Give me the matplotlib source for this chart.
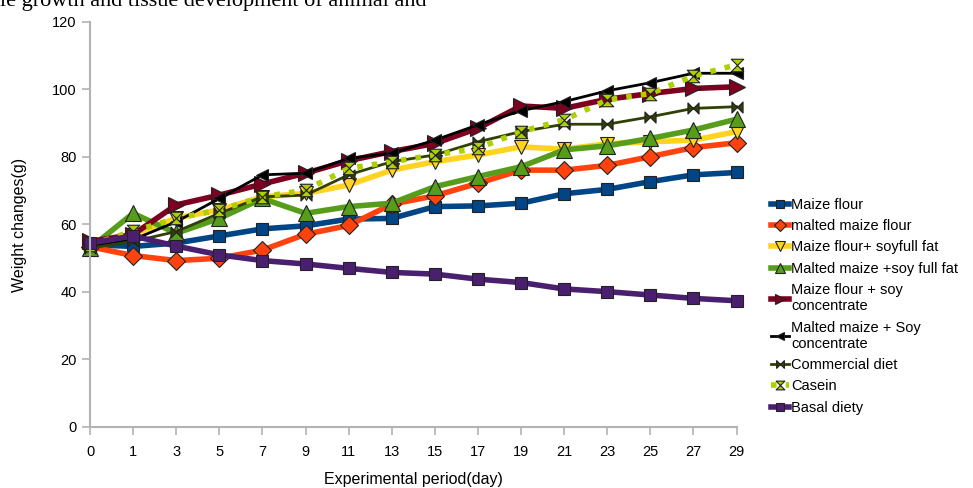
import matplotlib.pyplot as plt
from matplotlib.path import Path

plt.rcParams['font.family'] = ['Liberation Sans', 'DejaVu Sans']

# data
days = ['0', '1', '3', '5', '7', '9', '11', '13', '15', '17', '19', '21', '23', '25', '27', '29']

maize_flour = [54, 53.5, 54.5, 56.6, 58.7, 59.6, 61.6, 61.8, 65.3, 65.5, 66.3, 69.1, 70.4, 72.7, 74.7, 75.4]
malted_maize = [53.4, 50.8, 49.3, 50, 52.4, 57.1, 59.7, 66, 68.5, 72.2, 76.1, 76.1, 77.5, 80.1, 82.8, 84.2]
maize_soyfull = [54, 57, 61.9, 64.3, 68.2, 69.2, 71.7, 76.1, 78.6, 80.6, 83.0, 82.3, 83.9, 84.5, 85, 87.5]
malted_soyfull = [53, 63.3, 57.4, 61.8, 67.7, 63.3, 65.3, 66.3, 71.2, 74.2, 77.1, 82.1, 83.3, 85.5, 88, 91.2]
maize_soyconc = [55, 57, 65.8, 68.7, 72, 75.2, 78.9, 81.6, 84.0, 88.5, 95.1, 94.4, 97.1, 98.8, 100.3, 100.8]
malted_soyconc = [53.5, 55.5, 60.8, 67.7, 74.7, 75.2, 79.6, 81.1, 85.0, 89.5, 93.7, 96.4, 99.6, 102.0, 104.8, 104.8]
commercial = [53, 55, 57.9, 63.3, 68.2, 68.7, 74.7, 78.6, 80.6, 84.5, 87.5, 89.7, 89.7, 91.9, 94.4, 94.9]
casein = [54, 58, 61.8, 64.3, 68.2, 70.2, 76.6, 78.6, 80.6, 82.6, 87.5, 91, 96.9, 98.8, 104, 107.3]
basal = [54.5, 56.6, 53.6, 51, 49.3, 48.3, 47, 45.8, 45.3, 43.8, 42.8, 40.9, 40.1, 39.1, 38.1, 37.4]

labels = ['Maize flour', 'malted maize flour', 'Maize flour+ soyfull fat',
          'Malted maize +soy full fat', 'Maize flour + soy\nconcentrate',
          'Malted maize + Soy\nconcentrate', 'Commercial diet', 'Casein', 'Basal diety']

# custom markers
bowtie = Path([(-1, 1), (0, 0), (-1, -1), (-1, 1), (1, 1), (0, 0), (1, -1), (1, 1)],
              [1, 2, 2, 79, 1, 2, 2, 79])
hourglass = Path([(-1, 1), (1, 1), (-1, -1), (1, -1), (-1, 1)], [1, 2, 2, 2, 79])

series = [
    (maize_flour, '#004586', 's', 4, '-', 8),
    (malted_maize, '#ff420e', 'D', 4, '-', 9),
    (maize_soyfull, '#ffd320', 'v', 4, '-', 10),
    (malted_soyfull, '#579d1c', '^', 4, '-', 11),
    (maize_soyconc, '#7e0021', '>', 4, '-', 11),
    (malted_soyconc, '#000000', '<', 2, '-', 8),
    (commercial, '#314004', bowtie, 2, '-', 8),
    (casein, '#aecf00', hourglass, 4, ':', 9),
    (basal, '#4b1f6f', 's', 4, '-', 9),
]

fig = plt.figure(figsize=(9.73, 4.88), dpi=100)
ax = fig.add_axes([0.0925, 0.125, 0.6645, 0.83])

x = list(range(len(days)))
for (vals, col, mk, lw, ls, ms), lab in zip(series, labels):
    ax.plot(x, vals, color=col, lw=lw, ls=ls, marker=mk, markersize=ms,
            markerfacecolor=col, markeredgecolor='#222222', markeredgewidth=0.8,
            label=lab, clip_on=False)

ax.set_xlim(0, len(days) - 1)
ax.set_ylim(0, 120)
ax.set_xticks(x)
ax.set_xticklabels(days)
ax.set_yticks(range(0, 121, 20))
ax.tick_params(axis='both', labelsize=10.5, color='#b3b3b3', length=6, width=1.2)
ax.tick_params(axis='x', pad=7)
for s in ['top', 'right']:
    ax.spines[s].set_visible(False)
for s in ['left', 'bottom']:
    ax.spines[s].set_color('#b3b3b3')
    ax.spines[s].set_linewidth(1.5)

ax.set_xlabel('Experimental period(day)', fontsize=11.5, labelpad=9)
ax.set_ylabel('Weight changes(g)', fontsize=11.5, labelpad=18)

leg = ax.legend(loc='upper left', bbox_to_anchor=(1.045, 0.58), frameon=False,
                fontsize=10.5, handlelength=1.2, handletextpad=0.15,
                labelspacing=0.5, borderaxespad=0, markerscale=0.7)

fig.text(0.0, 0.988, 'le growth and tissue development of animal and',
         family=['Liberation Serif', 'DejaVu Serif'], fontsize=16, va='baseline')

fig.savefig('out.png', dpi=100)
